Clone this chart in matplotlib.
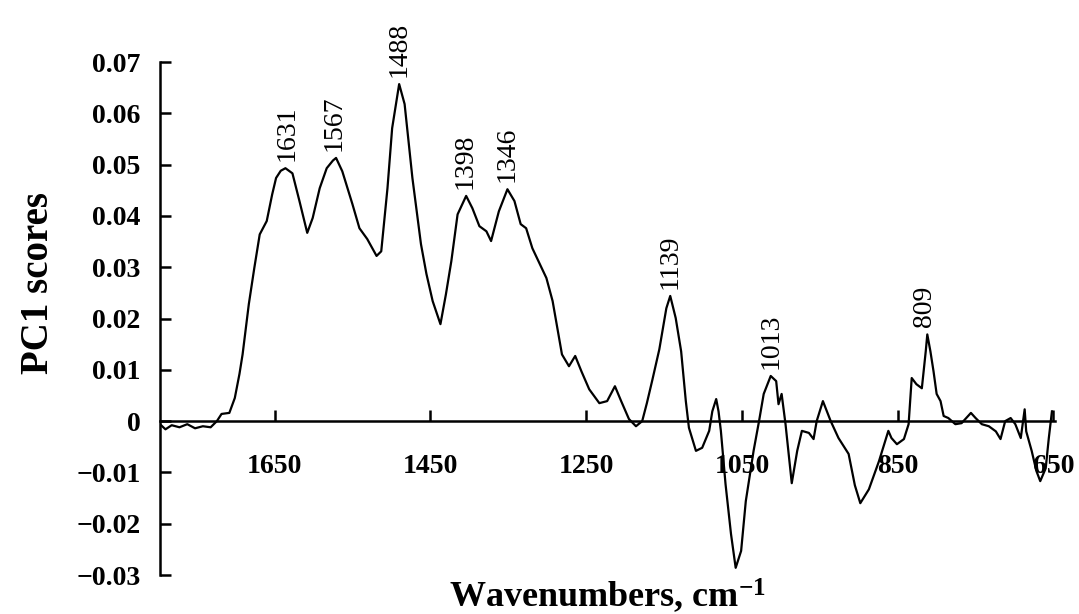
import matplotlib
matplotlib.use("Agg")
import matplotlib.pyplot as plt
import numpy as np

# traced spectrum (wavenumber, PC1 score)
wavenumbers = [1797, 1790, 1782, 1772, 1762, 1752, 1742, 1732, 1724, 1718,
               1708, 1701, 1695, 1691, 1683, 1676, 1669, 1660, 1653, 1648,
               1642, 1636, 1627, 1618, 1608, 1601, 1592, 1583, 1575, 1571,
               1563, 1550, 1541, 1531, 1519, 1513, 1505, 1499, 1490, 1483,
               1473, 1462, 1455, 1447, 1437, 1430, 1423, 1415, 1404, 1396,
               1387, 1378, 1372, 1362, 1351, 1342, 1334, 1327, 1319, 1301,
               1293, 1281, 1272, 1264, 1256, 1246, 1233, 1223, 1213, 1205,
               1195, 1186, 1178, 1172, 1165, 1156, 1147, 1142, 1135, 1128,
               1122, 1118, 1109, 1101, 1092, 1088, 1083, 1080, 1077, 1071,
               1064, 1058, 1051, 1045, 1035, 1028, 1022, 1013, 1006, 1003,
               999, 994, 986, 979, 973, 964, 958, 954, 946, 936,
               926, 913, 905, 898, 887, 874, 866, 862, 858, 851,
               842, 836, 832, 826, 819, 814, 812, 808, 804, 800,
               795, 791, 785, 776, 768, 756, 750, 742, 733, 724,
               718, 712, 705, 699, 692, 687, 685, 678, 672, 667,
               660, 656, 652]
scores = [-0.0006, -0.0016, -0.0008, -0.0012, -0.0006, -0.0014, -0.0010, -0.0012, 0.0000, 0.0014,
          0.0016, 0.0045, 0.0092, 0.0130, 0.0228, 0.0298, 0.0364, 0.0390, 0.0442, 0.0474,
          0.0488, 0.0493, 0.0483, 0.0429, 0.0367, 0.0396, 0.0454, 0.0493, 0.0508, 0.0513,
          0.0487, 0.0423, 0.0376, 0.0355, 0.0322, 0.0331, 0.0454, 0.0571, 0.0657, 0.0618,
          0.0474, 0.0345, 0.0287, 0.0234, 0.0189, 0.0247, 0.0312, 0.0403, 0.0439, 0.0415,
          0.0380, 0.0370, 0.0351, 0.0409, 0.0452, 0.0429, 0.0384, 0.0376, 0.0337, 0.0279,
          0.0234, 0.0130, 0.0107, 0.0127, 0.0097, 0.0062, 0.0035, 0.0039, 0.0068, 0.0039,
          0.0004, -0.0010, 0.0000, 0.0035, 0.0080, 0.0140, 0.0220, 0.0244, 0.0201, 0.0136,
          0.0039, -0.0013, -0.0058, -0.0052, -0.0019, 0.0019, 0.0043, 0.0019, -0.0019, -0.0123,
          -0.0220, -0.0286, -0.0253, -0.0156, -0.0058, 0.0000, 0.0053, 0.0088, 0.0078, 0.0033,
          0.0053, -0.0006, -0.0121, -0.0058, -0.0019, -0.0023, -0.0035, 0.0000, 0.0039, 0.0000,
          -0.0033, -0.0064, -0.0125, -0.0160, -0.0133, -0.0078, -0.0039, -0.0019, -0.0033, -0.0045,
          -0.0035, -0.0006, 0.0084, 0.0072, 0.0064, 0.0136, 0.0169, 0.0136, 0.0097, 0.0053,
          0.0039, 0.0010, 0.0006, -0.0006, -0.0004, 0.0016, 0.0006, -0.0006, -0.0010, -0.0020,
          -0.0035, 0.0000, 0.0006, -0.0006, -0.0033, 0.0023, -0.0020, -0.0058, -0.0097, -0.0117,
          -0.0092, -0.0033, 0.0019]

# peak labels
peak_labels = ["1631", "1567", "1488", "1398", "1346", "1139", "1013", "809"]
peak_pos = [1634, 1573, 1490, 1405, 1351, 1142, 1013, 815]
peak_val = [0.0493, 0.0513, 0.0657, 0.0439, 0.0452, 0.0244, 0.0088, 0.0169]

xticks = [1650, 1450, 1250, 1050, 850, 650]
yticks = [-0.03, -0.02, -0.01, 0, 0.01, 0.02, 0.03, 0.04, 0.05, 0.06, 0.07]
ytick_labels = ["\u22120.03", "\u22120.02", "\u22120.01", "0", "0.01", "0.02",
                "0.03", "0.04", "0.05", "0.06", "0.07"]

plt.rcParams['font.family'] = ['Liberation Serif', 'DejaVu Serif']
plt.rcParams['font.weight'] = 'bold'
plt.rcParams['mathtext.fontset'] = 'custom'
plt.rcParams['mathtext.rm'] = 'Liberation Serif:bold'
plt.rcParams['mathtext.bf'] = 'Liberation Serif:bold'
plt.rcParams['mathtext.default'] = 'bf'

fig = plt.figure(figsize=(10.79, 6.14), dpi=100)
ax = fig.add_axes([0.1483, 0.0635, 0.8295, 0.8355])

ax.plot(wavenumbers, scores, color='black', linewidth=1.6, zorder=3)

for lab, x, y in zip(peak_labels, peak_pos, peak_val):
    ax.annotate(lab, (x, y), xytext=(0, 5), textcoords='offset points',
                rotation=90, ha='center', va='bottom', fontsize=20,
                fontweight='normal')

ax.set_xlim(1797, 648)
ax.set_ylim(-0.03, 0.07)

ax.spines['top'].set_visible(False)
ax.spines['right'].set_visible(False)
ax.spines['bottom'].set_position(('data', 0))
ax.spines['bottom'].set_linewidth(1.8)
ax.spines['left'].set_linewidth(1.8)

ax.set_xticks(xticks)
ax.set_xticklabels([str(t) for t in xticks])
ax.set_yticks(yticks)
ax.set_yticklabels(ytick_labels)
ax.tick_params(axis='x', direction='in', length=8, width=1.8, pad=24, labelsize=20)
ax.tick_params(axis='y', direction='in', length=8, width=1.8, pad=14, labelsize=20)

ax.set_xlabel("Wavenumbers, cm$^{-1}$", fontsize=26, fontweight='bold')
ax.xaxis.set_label_coords(0.5, -0.002)
ax.set_ylabel("PC1 scores", fontsize=28, fontweight='bold')
ax.yaxis.set_label_coords(-0.115, 0.57)

fig.savefig("out.png", dpi=100)
